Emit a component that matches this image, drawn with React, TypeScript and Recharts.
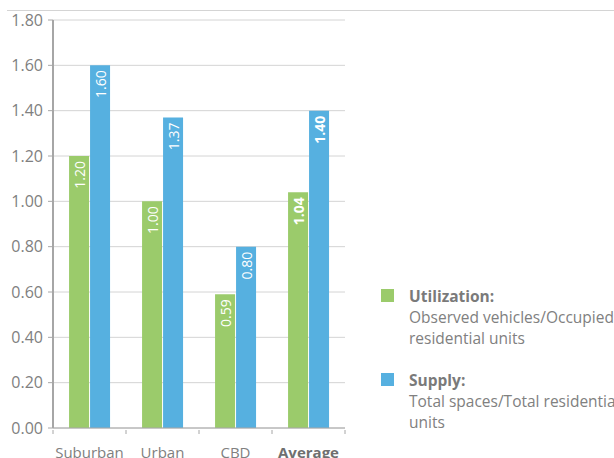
import { BarChart, Bar, XAxis, YAxis, CartesianGrid, LabelList } from 'recharts'

const categories = ['Suburban', 'Urban', 'CBD', 'Average']
const utilization = [1.2, 1.0, 0.59, 1.04]
const supply = [1.6, 1.37, 0.8, 1.4]
const yTicks = [0, 0.2, 0.4, 0.6, 0.8, 1.0, 1.2, 1.4, 1.6, 1.8]

const GREEN = '#9bcb6b'
const BLUE = '#56b0e0'
const AXIS = '#a6a6a6'
const TEXT = '#808080'
const FONT = '"Open Sans", "Noto Sans", sans-serif'

const data = categories.map((name, i) => ({
  name,
  utilization: utilization[i],
  supply: supply[i],
}))

const legendItems = [
  { color: GREEN, title: 'Utilization:', lines: ['Observed vehicles/Occupied', 'residential units'] },
  { color: BLUE, title: 'Supply:', lines: ['Total spaces/Total residential', 'units'] },
]

function BarLabel(props: any) {
  const { x, y, width, value, index } = props
  const cx = x + width / 2
  const ty = y + 5
  const bold = categories[index] === 'Average'
  return (
    <text
      x={cx}
      y={ty}
      transform={`rotate(-90 ${cx} ${ty})`}
      textAnchor="end"
      dominantBaseline="central"
      fill="#ffffff"
      fontSize={14}
      fontWeight={bold ? 700 : 400}
      fontFamily={FONT}
    >
      {Number(value).toFixed(2)}
    </text>
  )
}

function XTick(props: any) {
  const { x, y, payload, index } = props
  const half = payload.offset ?? 0
  const last = index === categories.length - 1
  const bold = payload.value === 'Average'
  return (
    <g>
      <line x1={x - half} x2={x - half} y1={y} y2={y + 4} stroke={AXIS} />
      {last && <line x1={x + half} x2={x + half} y1={y} y2={y + 4} stroke={AXIS} />}
      <text
        x={x}
        y={y + 28}
        textAnchor="middle"
        fill={bold ? '#6f6f6f' : TEXT}
        fontSize={15}
        fontWeight={bold ? 700 : 400}
        fontFamily={FONT}
      >
        {payload.value}
      </text>
    </g>
  )
}

function LegendBox() {
  return (
    <div
      style={{
        position: 'absolute',
        left: 381,
        top: 286,
        width: 240,
        fontFamily: FONT,
        fontSize: 15.5,
        color: TEXT,
        lineHeight: '21px',
      }}
    >
      {legendItems.map((item, i) => (
        <div key={item.title} style={{ display: 'flex', marginBottom: i === 0 ? 21 : 0 }}>
          <div style={{ width: 13, height: 13, background: item.color, marginTop: 3, marginRight: 15, flexShrink: 0 }} />
          <div style={{ whiteSpace: 'nowrap' }}>
            <div style={{ fontWeight: 700, color: '#7a7a7a' }}>{item.title}</div>
            {item.lines.map((l) => (
              <div key={l}>{l}</div>
            ))}
          </div>
        </div>
      ))}
    </div>
  )
}

export default function App() {
  return (
    <div style={{ position: 'absolute', left: 0, top: 0, width: 614, height: 458, overflow: 'hidden', background: '#fff' }}>
      <div style={{ position: 'absolute', left: 7, right: 0, top: 10, height: 1, background: '#d4d4d4' }} />
      <BarChart
        width={614}
        height={458}
        data={data}
        margin={{ top: 20, right: 269, bottom: 0, left: 0 }}
        barCategoryGap="22%"
        barGap={1}
      >
        <CartesianGrid vertical={false} stroke="#d4d4d4" />
        <XAxis
          dataKey="name"
          height={30}
          axisLine={{ stroke: AXIS }}
          tickLine={false}
          tick={<XTick />}
          tickSize={0}
          interval={0}
        />
        <YAxis
          width={53}
          domain={[0, 1.8]}
          ticks={yTicks}
          tickFormatter={(v: number) => v.toFixed(2)}
          axisLine={{ stroke: AXIS, strokeWidth: 2 }}
          tickLine={{ stroke: AXIS }}
          tickSize={5}
          tickMargin={5}
          tick={{ fill: TEXT, fontSize: 16, fontFamily: FONT }}
          interval={0}
        />
        <Bar dataKey="utilization" fill={GREEN} isAnimationActive={false}>
          <LabelList dataKey="utilization" content={<BarLabel />} />
        </Bar>
        <Bar dataKey="supply" fill={BLUE} isAnimationActive={false}>
          <LabelList dataKey="supply" content={<BarLabel />} />
        </Bar>
      </BarChart>
      <LegendBox />
    </div>
  )
}
